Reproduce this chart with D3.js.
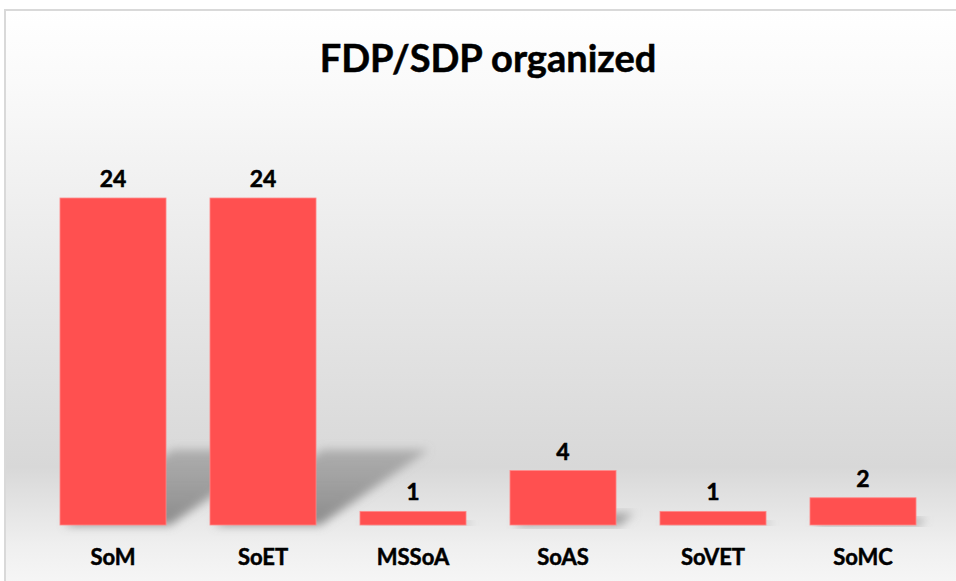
<!DOCTYPE html>
<html>
<head>
<meta charset="utf-8">
<script src="https://cdn.jsdelivr.net/npm/d3@7"></script>
<style>
  body { margin: 0; background: #fff; }
  text { font-family: Lato, "Open Sans", sans-serif; font-weight: bold; fill: #000; stroke: #000; stroke-width: 0.5px; }
</style>
</head>
<body>
<div id="chart"></div>
<script>
const categories = ["SoM", "SoET", "MSSoA", "SoAS", "SoVET", "SoMC"];
const values = [24, 24, 1, 4, 1, 2];
const chartTitle = "FDP/SDP organized";

const width = 956, height = 581;
const data = categories.map((c, i) => ({ cat: c, value: values[i] }));

const svg = d3.select("#chart").append("svg")
  .attr("width", width)
  .attr("height", height);

const defs = svg.append("defs");

// background gradient (white -> gray -> white)
const bg = defs.append("linearGradient")
  .attr("id", "bg-grad")
  .attr("x1", 0).attr("y1", 0).attr("x2", 0).attr("y2", 1);
bg.append("stop").attr("offset", "0%").attr("stop-color", "#ffffff");
bg.append("stop").attr("offset", "12%").attr("stop-color", "#fafafa");
bg.append("stop").attr("offset", "50%").attr("stop-color", "#e5e5e5");
bg.append("stop").attr("offset", "76%").attr("stop-color", "#d8d8d8");
bg.append("stop").attr("offset", "89%").attr("stop-color", "#efefef");
bg.append("stop").attr("offset", "100%").attr("stop-color", "#fbfbfb");

const blur = defs.append("filter")
  .attr("id", "shadow-blur")
  .attr("x", "-30%").attr("y", "-30%").attr("width", "160%").attr("height", "160%");
blur.append("feGaussianBlur").attr("stdDeviation", 5);

const shGrad = defs.append("linearGradient")
  .attr("id", "shadow-grad")
  .attr("x1", 0).attr("y1", 1).attr("x2", 0).attr("y2", 0);
shGrad.append("stop").attr("offset", "0%").attr("stop-color", "#7a7a7a").attr("stop-opacity", 0.85);
shGrad.append("stop").attr("offset", "100%").attr("stop-color", "#8a8a8a").attr("stop-opacity", 0.55);

// chart area with border
svg.append("rect")
  .attr("x", 5).attr("y", 10)
  .attr("width", width + 20).attr("height", height + 20)
  .attr("fill", "url(#bg-grad)")
  .attr("stroke", "#d9d9d9")
  .attr("stroke-width", 2);

svg.append("text")
  .attr("x", 488)
  .attr("y", 72)
  .attr("text-anchor", "middle")
  .style("font-size", "38px")
  .text(chartTitle);

const x = d3.scaleBand()
  .domain(categories)
  .range([38, 938])
  .paddingInner(0.293)
  .paddingOuter(0.1465);

const y = d3.scaleLinear()
  .domain([0, 24])
  .range([525, 198]);

// perspective shadows behind the bars
const shadowLen = 0.23, shadowSkew = 1.5;
svg.append("g").selectAll("path")
  .data(data)
  .enter()
  .append("path")
  .attr("d", d => {
    const x0 = x(d.cat), w = x.bandwidth(), yb = y(0);
    const sh = (y(0) - y(d.value)) * shadowLen;
    const dx = sh * shadowSkew;
    return `M${x0 + 4},${yb} L${x0 + w + 4},${yb} L${x0 + w + dx},${yb - sh} L${x0 + dx},${yb - sh} Z`;
  })
  .attr("fill", "url(#shadow-grad)")
  .attr("filter", "url(#shadow-blur)");

svg.append("g").selectAll("rect")
  .data(data)
  .enter()
  .append("rect")
  .attr("x", d => x(d.cat))
  .attr("y", d => y(d.value))
  .attr("width", x.bandwidth())
  .attr("height", d => y(0) - y(d.value))
  .attr("fill", "#ff5050")
  .attr("stroke", "#ff8a8a")
  .attr("stroke-width", 0.8);

// value labels
svg.append("g").selectAll("text")
  .data(data)
  .enter()
  .append("text")
  .attr("x", d => x(d.cat) + x.bandwidth() / 2)
  .attr("y", d => y(d.value) - 11)
  .attr("text-anchor", "middle")
  .style("font-size", "23px")
  .text(d => d.value);

// category axis labels
const xAxis = svg.append("g")
  .attr("transform", `translate(0,${y(0)})`)
  .call(d3.axisBottom(x).tickSize(0).tickPadding(0));
xAxis.select(".domain").remove();
xAxis.selectAll("text")
  .attr("dy", null)
  .attr("y", 40)
  .attr("fill", "#000")
  .style("font-family", "Lato, 'Open Sans', sans-serif")
  .style("font-weight", "bold")
  .style("font-size", "22px");
</script>
</body>
</html>
